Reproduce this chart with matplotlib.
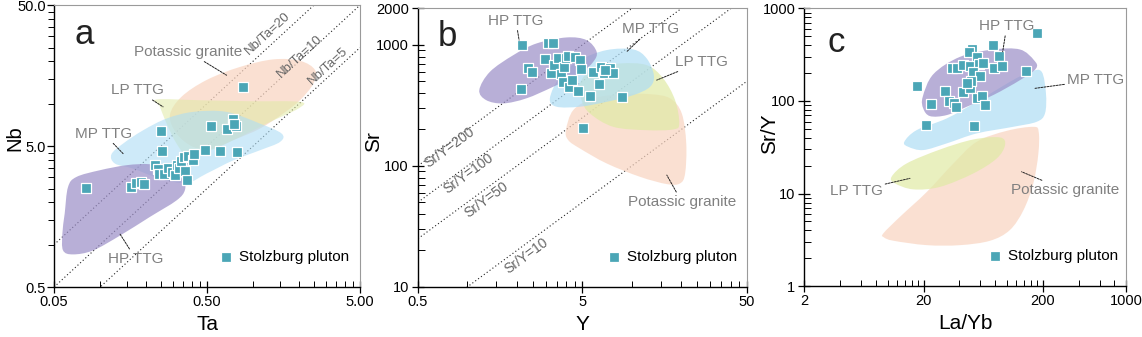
import numpy as np
import matplotlib.pyplot as plt
from matplotlib.path import Path
from matplotlib.patches import PathPatch
from matplotlib.ticker import FixedLocator, FixedFormatter, NullFormatter

plt.rcParams['font.family'] = ['Liberation Sans', 'DejaVu Sans']

# ---- Stolzburg pluton samples ----
TA = [0.0805, 0.160, 0.171, 0.186, 0.193, 0.249, 0.253, 0.230, 0.239, 0.242, 0.262,
      0.276, 0.296, 0.307, 0.319, 0.329, 0.340, 0.355, 0.361, 0.369, 0.377, 0.402,
      0.410, 0.486, 0.607, 0.784, 0.530, 0.671, 0.742, 0.772, 0.755, 0.854]
NB = [2.52, 2.55, 2.75, 2.78, 2.68, 6.44, 4.64, 3.66, 3.46, 3.19, 3.15,
      3.50, 3.28, 3.10, 3.70, 3.50, 3.90, 4.19, 3.33, 2.89, 4.26, 4.01,
      4.37, 4.70, 4.60, 4.55, 6.99, 6.62, 7.75, 6.99, 7.20, 13.1]

Y = [2.16, 3.07, 3.29, 2.32, 2.47, 2.13, 2.98, 3.20, 3.36, 3.56, 3.73, 3.80, 3.84,
     3.97, 4.10, 4.14, 4.32, 4.50, 4.70, 4.83, 4.92, 5.01, 5.56, 5.82, 6.30, 6.48,
     6.76, 7.35, 7.64, 8.70, 6.90]
SR = [995, 1027, 1027, 646, 595, 428, 757, 587, 676, 772, 573, 495, 659,
      772, 807, 450, 511, 787, 415, 748, 634, 206, 377, 599, 474, 659,
      587, 638, 580, 368, 615]

LAYB = [178, 50.7, 76.1, 48.5, 56.2, 86.0, 34.5, 38.5, 42.9, 49.1, 58.1, 63.6, 78.1,
        91.7, 145, 51.7, 59.6, 17.5, 30.5, 43.2, 48.8, 49.8, 46.1, 32.9, 36.1, 37.2,
        23.1, 56.6, 61.9, 65.6, 21.0, 52.7]
SRY = [545, 369, 401, 340, 295, 308, 225, 225, 244, 240, 248, 259, 225,
       240, 210, 207, 187, 147, 128, 126, 137, 164, 155, 100, 94, 87,
       92.5, 109, 113, 90, 54.4, 53.5]

# ---- reference fields (outline vertices) ----
# (a) Ta vs Nb
HP_A_X = [0.0617, 0.070, 0.0995, 0.149, 0.211, 0.286, 0.349, 0.358, 0.316, 0.211, 0.135, 0.090, 0.0666, 0.0573, 0.0567, 0.0587]
HP_A_Y = [2.56, 3.02, 3.37, 3.66, 3.72, 3.46, 2.86, 2.43, 2.06, 1.57, 1.16, 0.91, 0.853, 0.91, 1.20, 1.66]
MP_A_X = [0.1186, 0.1414, 0.191, 0.272, 0.406, 0.671, 1.108, 1.537, 1.499, 1.108, 0.741, 0.496, 0.367, 0.246, 0.164, 0.125]
MP_A_Y = [4.37, 5.21, 6.47, 7.84, 8.74, 8.74, 7.22, 6.13, 5.35, 4.67, 3.96, 3.19, 2.74, 2.94, 3.46, 3.76]
LP_A_X = [0.234, 0.449, 0.953, 2.02, 1.975, 1.225, 0.741, 0.496, 0.377, 0.316, 0.272, 0.246]
LP_A_Y = [10.7, 10.57, 10.4, 10.3, 9.23, 7.22, 5.5, 4.54, 4.19, 5.21, 7.22, 9.49]
KG_A_X = [0.286, 0.340, 0.496, 0.820, 1.355, 2.03, 2.54, 2.48, 2.03, 1.574, 1.108, 0.741, 0.549, 0.406, 0.316]
KG_A_Y = [8.28, 11.17, 14.7, 18.2, 20.6, 20.1, 17.3, 13.9, 10.6, 8.51, 6.65, 5.5, 4.8, 4.93, 6.13]

# (b) Y vs Sr
HP_B_X = [1.18, 1.37, 1.90, 2.63, 4.0, 5.3, 6.1, 5.82, 4.83, 3.32, 2.28, 1.65, 1.30]
HP_B_Y = [423, 599, 822, 1027, 1151, 1094, 877, 724, 580, 450, 361, 328, 349]
MP_B_X = [3.17, 3.65, 4.83, 7.02, 10.2, 12.3, 13.6, 12.9, 10.2, 7.02, 4.83, 3.48]
MP_B_Y = [361, 545, 748, 905, 916, 772, 562, 450, 384, 338, 308, 308]
LP_B_X = [4.83, 5.82, 8.46, 12.3, 15.5, 18.3, 19.4, 17.9, 12.3, 7.7, 5.55, 4.94]
LP_B_Y = [480, 638, 702, 680, 527, 349, 224, 200, 197, 210, 271, 349]
KG_B_X = [3.97, 4.40, 5.82, 8.46, 12.9, 17.06, 20.1, 21.4, 21.06, 19.6, 16.3, 11.2, 7.02, 4.83, 4.10]
KG_B_Y = [197, 289, 361, 391, 391, 361, 271, 153, 86.5, 71.5, 70.6, 81.1, 104.6, 139, 163]

# (c) La/Yb vs Sr/Y
HP_C_X = [19.7, 24.2, 40.5, 77.1, 129, 169, 176, 129, 77.1, 46.1, 31.3, 22.7, 19.9]
HP_C_Y = [111, 195, 300, 360, 360, 276, 225, 168, 116, 86.6, 70.4, 68.6, 83]
MP_C_X = [13.8, 17.5, 31.3, 55.8, 106, 157, 196, 213, 209, 178, 113, 55.8, 31.3, 19.9, 14.9]
MP_C_Y = [36.2, 48.4, 64.8, 98, 161, 207, 207, 121, 73.3, 59.6, 52.6, 44.6, 34.8, 29.5, 32]
LP_C_X = [10.8, 14.4, 27.5, 52.4, 87.7, 96.6, 82.2, 52.4, 27.5, 16.4, 11.5]
LP_C_Y = [15.2, 21.1, 29.9, 38.4, 40.4, 33.4, 23.9, 16.5, 11.8, 11.1, 12.9]
KG_C_X = [9.2, 12.7, 21.3, 35.6, 55.8, 99.8, 167, 185, 184, 167, 138, 106, 72.3, 40.5, 21.3, 11.2, 9.32]
KG_C_Y = [3.71, 5.61, 10.4, 21.1, 36.2, 47.6, 52.6, 46.5, 27.1, 12.9, 6.62, 4.03, 3.09, 2.77, 2.77, 3.09, 3.36]

NBTA_RATIOS = [20, 10, 5]
SRY_RATIOS = [200, 100, 50, 10]

C_HP = '#9b8ec7'
C_MP = '#aeddf5'
C_LP = '#e0eaa5'
C_KG = '#f9d4c0'
C_PT = '#4ba6b6'
C_LBL = '#808080'


def field(ax, xs, ys, color, alpha=0.7):
    # closed Catmull-Rom outline through the vertices, built in log space
    p = np.column_stack([np.log10(xs), np.log10(ys)])
    n = len(p)
    verts = [p[0]]
    codes = [Path.MOVETO]
    for i in range(n):
        p0, p1, p2, p3 = p[i - 1], p[i], p[(i + 1) % n], p[(i + 2) % n]
        verts += [p1 + (p2 - p0) / 6, p2 - (p3 - p1) / 6, p2]
        codes += [Path.CURVE4] * 3
    verts = 10 ** np.array(verts)
    ax.add_patch(PathPatch(Path(verts, codes), fc=color, ec='none', alpha=alpha, zorder=1))


def ratio_lines(ax, ratios, fmt, label_pos, fontsize):
    x0, x1 = ax.get_xlim()
    y0, y1 = ax.get_ylim()
    xs = np.array([x0, x1])
    bb = ax.get_position()
    wpx = bb.width * fig.get_figwidth()
    hpx = bb.height * fig.get_figheight()
    ang = np.degrees(np.arctan((hpx / np.log10(y1 / y0)) / (wpx / np.log10(x1 / x0))))
    for r, (tx, ty) in zip(ratios, label_pos):
        ax.plot(xs, r * xs, ls=(0, (1, 2.2)), lw=0.8, color='#222222', zorder=0.5)
        ax.text(tx, ty, fmt.format(r), rotation=ang, ha='center', va='center',
                fontsize=fontsize, color='#666666', rotation_mode='anchor', zorder=2)


def tag(ax, text, xy, xytext):
    ax.annotate(text, xy=xy, xytext=xytext, fontsize=11, color=C_LBL,
                ha='center', va='center', zorder=4,
                arrowprops=dict(arrowstyle='-', lw=0.7, color='#222222',
                                linestyle=(0, (2, 1.2)), shrinkA=0, shrinkB=0,
                                relpos=(0.5, 0.5)), annotation_clip=False)


def style(ax, xlim, ylim, xmaj, xlab, xmin, ymaj, ylab, ymin, ydir):
    ax.set_xscale('log')
    ax.set_yscale('log')
    ax.set_xlim(*xlim)
    ax.set_ylim(*ylim)
    ax.xaxis.set_major_locator(FixedLocator(xmaj))
    ax.xaxis.set_major_formatter(FixedFormatter(xlab))
    ax.xaxis.set_minor_locator(FixedLocator(xmin))
    ax.xaxis.set_minor_formatter(NullFormatter())
    ax.yaxis.set_major_locator(FixedLocator(ymaj))
    ax.yaxis.set_major_formatter(FixedFormatter(ylab))
    ax.yaxis.set_minor_locator(FixedLocator(ymin))
    ax.yaxis.set_minor_formatter(NullFormatter())
    ax.tick_params(axis='x', which='major', direction='inout', length=8, width=0.9, labelsize=10.5, pad=2)
    ax.tick_params(axis='x', which='minor', direction='in', length=4.5, width=0.7)
    if ydir == 'out':
        ax.tick_params(axis='y', which='major', direction='out', length=5, width=0.9, labelsize=10.5, pad=1)
        ax.tick_params(axis='y', which='minor', direction='out', length=4.5, width=0.7)
    else:
        ax.tick_params(axis='y', which='major', direction='inout', length=9, width=0.9, labelsize=10.5, pad=2)
        ax.tick_params(axis='y', which='minor', direction='in', length=5, width=0.7)
    for s in ('left', 'bottom'):
        ax.spines[s].set_linewidth(1.0)
        ax.spines[s].set_color('black')
    for s in ('top', 'right'):
        ax.spines[s].set_linewidth(0.8)
        ax.spines[s].set_color('#9a9a9a')


def samples(ax, xs, ys, legend_anchor):
    ax.scatter(xs, ys, marker='s', s=55, c=C_PT, edgecolors='white', linewidths=0.9,
               zorder=3, label='Stolzburg pluton')
    ax.legend(loc='center right', bbox_to_anchor=legend_anchor, frameon=False, fontsize=11,
              handletextpad=0.35, borderpad=0, borderaxespad=0, handlelength=1.0,
              scatterpoints=1)


fig = plt.figure(figsize=(11.42, 3.37), dpi=100)

# ---------------- (a) Nb vs Ta ----------------
ax = fig.add_axes([0.0473, 0.148, 0.268, 0.837])
dec = [1, 1.5, 2, 2.5, 3, 3.5, 4, 4.5]
style(ax, (0.05, 5), (0.5, 50),
      [0.05, 0.5, 5], ['0.05', '0.50', '5.00'], [0.1 * d for d in dec] + [d for d in dec],
      [0.5, 5, 50], ['0.5', '5.0', '50.0'], dec + [10 * d for d in dec], 'out')
field(ax, KG_A_X, KG_A_Y, C_KG)
field(ax, LP_A_X, LP_A_Y, C_LP, 0.55)
field(ax, MP_A_X, MP_A_Y, C_MP, 0.6)
field(ax, HP_A_X, HP_A_Y, C_HP)
ratio_lines(ax, NBTA_RATIOS, 'Nb/Ta={}', [(1.25, 31.6), (2.02, 21.5), (3.1, 18.6)], 9.5)
samples(ax, TA, NB, (0.963, 0.106))
tag(ax, 'Potassic granite', (0.671, 15.9), (0.377, 23.3))
tag(ax, 'LP TTG', (0.258, 9.49), (0.175, 12.45))
tag(ax, 'MP TTG', (0.1414, 4.42), (0.1057, 6.13))
tag(ax, 'HP TTG', (0.1345, 1.196), (0.171, 0.795))
ax.text(0.098, 0.897, 'a', transform=ax.transAxes, fontsize=25, ha='center', va='center', color='#222222')
ax.set_xlabel('Ta', fontsize=15, labelpad=4)
ax.set_ylabel('Nb', fontsize=14.5)
ax.yaxis.set_label_coords(-0.097, 0.53)

# ---------------- (b) Sr vs Y ----------------
ax = fig.add_axes([0.366, 0.149, 0.288, 0.826])
style(ax, (0.5, 50), (10, 2000),
      [0.5, 5, 50], ['0.5', '5', '50'], dec + [10 * d for d in dec],
      [10, 100, 1000, 2000], ['10', '100', '1000', '2000'],
      [20, 30, 40, 50, 60, 70, 80, 90, 200, 300, 400, 500, 600, 700, 800, 900], 'in')
field(ax, KG_B_X, KG_B_Y, C_KG)
field(ax, LP_B_X, LP_B_Y, C_LP)
field(ax, MP_B_X, MP_B_Y, C_MP)
field(ax, HP_B_X, HP_B_Y, C_HP)
ratio_lines(ax, SRY_RATIOS, 'Sr/Y={}', [(0.78, 142), (1.01, 86.5), (1.30, 52), (2.29, 17.9)], 10)
samples(ax, Y, SR, (0.97, 0.1075))
tag(ax, 'HP TTG', (2.06, 1094), (1.97, 1581))
tag(ax, 'MP TTG', (9.29, 877), (12.9, 1341))
tag(ax, 'LP TTG', (14.15, 511), (26.6, 724))
tag(ax, 'Potassic granite', (16.3, 83.8), (20.1, 50.4))
ax.text(0.088, 0.90, 'b', transform=ax.transAxes, fontsize=25, ha='center', va='center', color='#222222')
ax.set_xlabel('Y', fontsize=15, labelpad=4)
ax.set_ylabel('Sr', fontsize=15)
ax.yaxis.set_label_coords(-0.105, 0.52)

# ---------------- (c) Sr/Y vs La/Yb ----------------
ax = fig.add_axes([0.7043, 0.151, 0.2817, 0.824])
style(ax, (2, 1000), (1, 1000),
      [2, 20, 200, 1000], ['2', '20', '200', '1000'],
      [4, 6, 8, 10, 12, 14, 16, 18, 40, 60, 80, 100, 120, 140, 160, 180, 400, 600, 800],
      [1, 10, 100, 1000], ['1', '10', '100', '1000'],
      [k * 10 ** e for e in range(3) for k in range(2, 10)], 'in')
field(ax, KG_C_X, KG_C_Y, C_KG)
field(ax, LP_C_X, LP_C_Y, C_LP)
field(ax, MP_C_X, MP_C_Y, C_MP)
field(ax, HP_C_X, HP_C_Y, C_HP)
samples(ax, LAYB, SRY, (0.975, 0.108))
tag(ax, 'HP TTG', (92.3, 340), (99.8, 644))
tag(ax, 'MP TTG', (172.5, 137), (557, 168))
tag(ax, 'LP TTG', (15.4, 14.6), (5.43, 10.7))
tag(ax, 'Potassic granite', (133, 17.2), (308, 10.9))
ax.text(0.099, 0.878, 'c', transform=ax.transAxes, fontsize=25, ha='center', va='center', color='#222222')
ax.set_xlabel('La/Yb', fontsize=15, labelpad=4)
ax.set_ylabel('Sr/Y', fontsize=15)
ax.yaxis.set_label_coords(-0.08, 0.55)

fig.savefig('out.png', dpi=100)
